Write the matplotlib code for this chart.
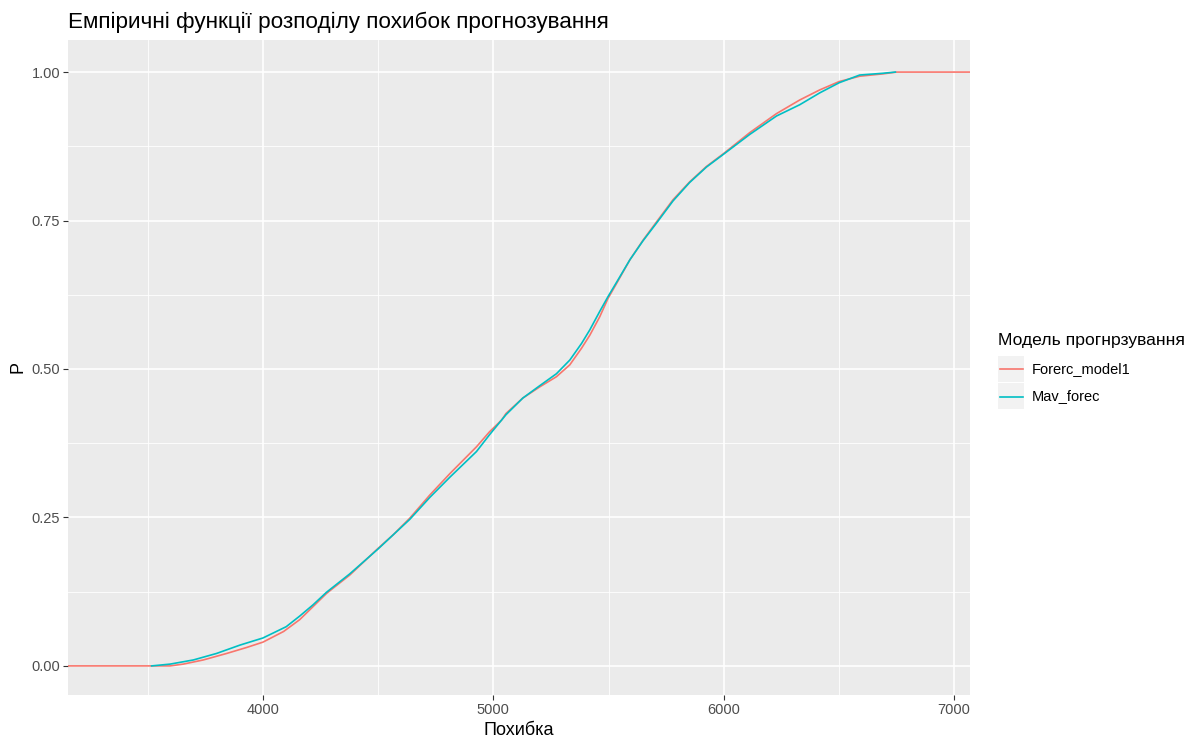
import matplotlib
matplotlib.use("Agg")
import matplotlib.pyplot as plt
from matplotlib.lines import Line2D
from matplotlib.patches import Rectangle

plt.rcParams['font.family'] = ['Liberation Sans', 'DejaVu Sans']

# ECDF values
model_x = [3597, 3654, 3741, 3843, 3929, 4000, 4090, 4160, 4218, 4276, 4305, 4377,
           4500, 4566, 4638, 4725, 4812, 4927, 4983, 5036, 5055, 5128, 5202, 5274,
           5332, 5383, 5419, 5462, 5498, 5535, 5593, 5650, 5709, 5780, 5852, 5925,
           5997, 6113, 6229, 6330, 6417, 6501, 6590, 6692, 6750]
model_p = [0.0, 0.003, 0.010, 0.021, 0.031, 0.040, 0.058, 0.078, 0.100, 0.122, 0.131, 0.153,
           0.198, 0.221, 0.249, 0.288, 0.324, 0.369, 0.394, 0.414, 0.425, 0.451, 0.470, 0.487,
           0.507, 0.535, 0.557, 0.588, 0.619, 0.644, 0.684, 0.717, 0.748, 0.785, 0.815, 0.841,
           0.862, 0.898, 0.930, 0.953, 0.970, 0.984, 0.993, 0.997, 1.0]

mav_x = [3517, 3597, 3698, 3799, 3900, 4000, 4101, 4160, 4218, 4276, 4377, 4500,
         4638, 4725, 4812, 4927, 4983, 5055, 5128, 5202, 5274, 5332, 5383, 5419,
         5462, 5498, 5535, 5593, 5650, 5709, 5780, 5852, 5925, 5997, 6113, 6229,
         6330, 6417, 6501, 6590, 6692, 6745]
mav_p = [0.0, 0.003, 0.010, 0.021, 0.035, 0.047, 0.066, 0.084, 0.103, 0.124, 0.155, 0.197,
         0.247, 0.284, 0.318, 0.361, 0.389, 0.423, 0.451, 0.472, 0.492, 0.515, 0.543, 0.566,
         0.597, 0.622, 0.646, 0.684, 0.716, 0.746, 0.783, 0.814, 0.840, 0.861, 0.895, 0.926,
         0.945, 0.965, 0.982, 0.995, 0.998, 1.0]

series_names = ["Forerc_model1", "Mav_forec"]
colors = ["#F8766D", "#00BFC4"]
x_ticks = [4000, 5000, 6000, 7000]
x_minor = [3500, 4500, 5500, 6500]
y_ticks = [0.0, 0.25, 0.5, 0.75, 1.0]
y_minor = [0.125, 0.375, 0.625, 0.875]

fig = plt.figure(figsize=(11.95, 7.4), dpi=100)
ax = fig.add_axes([68 / 1195, 1 - 695 / 740, 902 / 1195, 655 / 740])
ax.set_facecolor("#EBEBEB")
xmin, xmax = 3154, 7069
ax.set_xlim(xmin, xmax)
ax.set_ylim(-0.049, 1.054)

for v in x_minor:
    ax.axvline(v, color="white", lw=0.6, zorder=0)
for v in y_minor:
    ax.axhline(v, color="white", lw=0.6, zorder=0)
for v in x_ticks:
    ax.axvline(v, color="white", lw=1.2, zorder=0)
for v in y_ticks:
    ax.axhline(v, color="white", lw=1.2, zorder=0)

# first series padded to the panel edges like stat_ecdf(pad = TRUE)
ax.plot([xmin] + model_x + [xmax], [0.0] + model_p + [1.0], color=colors[0], lw=1.2, zorder=2)
ax.plot(mav_x, mav_p, color=colors[1], lw=1.2, zorder=3)

ax.set_xticks(x_ticks)
ax.set_xticklabels([str(t) for t in x_ticks])
ax.set_yticks(y_ticks)
ax.set_yticklabels(["%.2f" % t for t in y_ticks])
ax.tick_params(colors="#333333", labelcolor="#4D4D4D", labelsize=10.5, length=3.5, width=0.8, pad=2)
for s in ax.spines.values():
    s.set_visible(False)

ax.set_xlabel("Похибка", fontsize=13, labelpad=4)
ax.set_ylabel("P", fontsize=13, labelpad=4)
fig.text(68 / 1195, 1 - 22 / 740, "Емпіричні функції розподілу похибок прогнозування",
         fontsize=16.2, ha="left", va="center")

# legend
fig.text(998 / 1195, 1 - 340 / 740, "Модель прогнрзування", fontsize=12.6, ha="left", va="center")
for i, name in enumerate(series_names):
    top = 356 + i * 27.5
    fig.patches.append(Rectangle((998 / 1195, 1 - (top + 26) / 740), 26 / 1195, 26 / 740,
                                 transform=fig.transFigure, facecolor="#F2F2F2", edgecolor="none"))
    yc = 1 - (top + 13) / 740
    fig.lines.append(Line2D([1000 / 1195, 1022.5 / 1195], [yc, yc], transform=fig.transFigure,
                            color=colors[i], lw=1.2))
    fig.text(1032 / 1195, yc, name, fontsize=10.5, ha="left", va="center")

fig.savefig("out.png", dpi=100, facecolor="white")
